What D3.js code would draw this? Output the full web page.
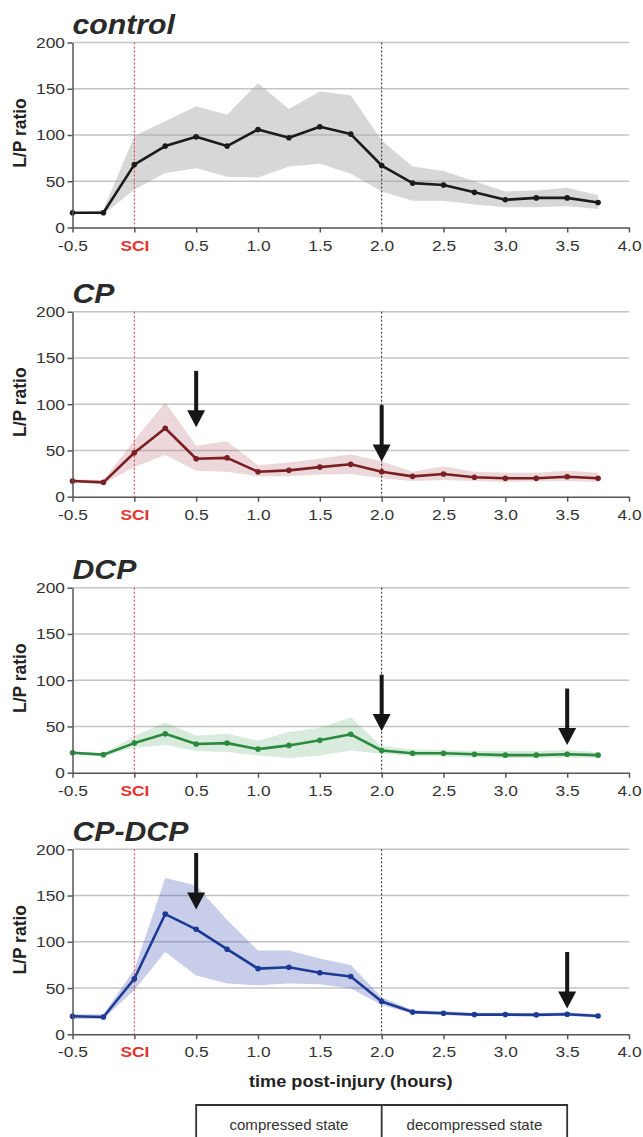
<!DOCTYPE html>
<html><head><meta charset="utf-8">
<script src="https://cdn.jsdelivr.net/npm/d3@7"></script>
<style>body{margin:0;background:#fff}svg{display:block}</style>
</head><body><svg id="c" width="643" height="1137"></svg>
<script>
// ---------- data ----------
const timePoints = [-0.5,-0.25,0,0.25,0.5,0.75,1.0,1.25,1.5,1.75,2.0,2.25,2.5,2.75,3.0,3.25,3.5,3.75];
const xTickValues = [-0.5,0,0.5,1,1.5,2,2.5,3,3.5,4];
const xTickLabels = ["-0.5","SCI","0.5","1.0","1.5","2.0","2.5","3.0","3.5","4.0"];
const yTickValues = [0,50,100,150,200];
const panelTitles = ["control","CP","DCP","CP-DCP"];
const yAxisTitle = "L/P ratio";
const xAxisTitle = "time post-injury (hours)";
const stateLabels = ["compressed state","decompressed state"];
const stateBounds = [0.5, 2.0, 3.5];

const controlMean  = [16,16,68,88,98,88,106,97,109,101,67,48,46,38,30,32,32,27];
const controlUpper = [16,19,99,115,131,122,156,128,147,143,94,66,61,50,39,40,43,35];
const controlLower = [16,14,41,59,64,55,54,66,69,58,39,29,29,25,22,22,23,20];

const cpMean  = [17,15.5,47.5,74,41,42,27,28.5,32,35,27,22,24.5,21,20,20,21.5,20];
const cpUpper = [19,18,61,102,55,60,34,37,41,46,38,27,33,27,26,26,28,26];
const cpLower = [15,14,32,45,28,27,22,22,24,24.5,20,17,18,17,16,16.5,17,16];

const dcpMean  = [21.5,19.5,32,42,31,32,25.5,29.5,35,41.5,24,21,21,20,19,19,20,19];
const dcpUpper = [23,21,39.5,54.5,40,42,34.5,44,48.5,60,29,25,24.5,23.5,23.5,23.5,24.5,22];
const dcpLower = [20,18,27,30,23.5,22.5,18.5,16,18.5,24,20.5,18,17.5,16.5,16,16,16.5,16];

const cpdcpMean  = [19.5,18.7,60,130,113.5,92,71,72.5,66.5,62.5,35.5,24,22.7,21.3,21.3,21,21.6,19.8];
const cpdcpUpper = [21.6,21.6,70,169,161,123.5,90.5,90.5,82,75,40,26.3,25,23.4,23.4,23,23.8,22];
const cpdcpLower = [16.6,16.6,48,89,63.5,55,53,55,54,49.5,31.7,22.3,21,19.8,19.8,19.5,19.8,18.4];

// arrows: [time, tail value, tip value]
const cpArrows    = [[0.5,136,75],[2.0,99,38]];
const dcpArrows   = [[2.0,106,45],[3.5,91,30]];
const cpdcpArrows = [[0.5,196,135],[3.5,89,28]];

// ---------- layout ----------
const svg = d3.select("#c");
const FONT = "'Liberation Sans', Arial, Helvetica, sans-serif";
const x = d3.scaleLinear().domain([-0.5,4.0]).range([72.5,629]);
const panelTops = [42.5, 311.7, 587.7, 849.3];
const panelH = 185;

const panels = [
  {title:panelTitles[0], mean:controlMean, up:controlUpper, lo:controlLower, line:"#1b1b1b", band:"#a6a7a8", bandOp:0.45, arrows:[]},
  {title:panelTitles[1], mean:cpMean, up:cpUpper, lo:cpLower, line:"#7a1f22", band:"#b5606a", bandOp:0.25, arrows:cpArrows},
  {title:panelTitles[2], mean:dcpMean, up:dcpUpper, lo:dcpLower, line:"#2a8a3e", band:"#3a9a55", bandOp:0.2, arrows:dcpArrows},
  {title:panelTitles[3], mean:cpdcpMean, up:cpdcpUpper, lo:cpdcpLower, line:"#1d3a94", band:"#3a4fb0", bandOp:0.28, arrows:cpdcpArrows}
];

const SX = 1.12; // horizontal stretch of the reference lettering

panels.forEach((p, pi) => {
  const top = panelTops[pi];
  const y = d3.scaleLinear().domain([0,200]).range([top+panelH, top]);
  const g = svg.append("g");

  // gridlines
  g.selectAll("line.grid").data(yTickValues.filter(v => v>0)).join("line")
    .attr("x1", x(-0.5)).attr("x2", x(4.0))
    .attr("y1", d => y(d)).attr("y2", d => y(d))
    .attr("stroke", "#c4c4c4").attr("stroke-width", 1.5);

  // band
  const area = d3.area().x((d,i)=>x(timePoints[i])).y0((d,i)=>y(p.lo[i])).y1((d,i)=>y(p.up[i]));
  g.append("path").datum(p.mean).attr("d", area)
    .attr("fill", p.band).attr("fill-opacity", p.bandOp);

  // vertical dashed markers
  g.append("line").attr("x1", x(0)).attr("x2", x(0)).attr("y1", y(200)).attr("y2", y(0))
    .attr("stroke", "#e8322f").attr("stroke-width", 1).attr("stroke-dasharray", "2,2");
  g.append("line").attr("x1", x(2)).attr("x2", x(2)).attr("y1", y(200)).attr("y2", y(0))
    .attr("stroke", "#222").attr("stroke-width", 1).attr("stroke-dasharray", "2,2");

  // mean line
  const line = d3.line().x((d,i)=>x(timePoints[i])).y(d=>y(d));
  g.append("path").datum(p.mean).attr("d", line)
    .attr("fill", "none").attr("stroke", p.line).attr("stroke-width", 2.6).attr("stroke-linejoin","round");
  g.selectAll("circle").data(p.mean).join("circle")
    .attr("cx", (d,i)=>x(timePoints[i])).attr("cy", d=>y(d)).attr("r", 2.8).attr("fill", p.line);

  // axes
  const yAxis = g.append("g").attr("transform", `translate(${x(-0.5)},0)`)
    .call(d3.axisLeft(y).tickValues(yTickValues).tickSize(5).tickSizeOuter(0).tickPadding(2.5));
  const xAxis = g.append("g").attr("transform", `translate(0,${y(0)})`)
    .call(d3.axisBottom(x).tickValues(xTickValues).tickFormat((d,i)=>xTickLabels[i]).tickSize(5).tickSizeOuter(0).tickPadding(7));
  [yAxis, xAxis].forEach(a => {
    a.select(".domain").attr("stroke", "#555").attr("stroke-width", 1.5);
    a.selectAll(".tick line").attr("stroke", "#555").attr("stroke-width", 1.5);
    a.selectAll(".tick text").attr("font-family", FONT).attr("font-size", 15.5).attr("fill", "#333");
  });
  yAxis.selectAll(".tick text").each(function(){
    const t = d3.select(this);
    t.attr("x", (+t.attr("x"))/SX).attr("transform", `scale(${SX},1)`);
  });
  xAxis.selectAll(".tick text").attr("transform", `scale(${SX},1)`)
    .filter((d,i)=>xTickLabels[i]==="SCI")
    .attr("fill", "#e8322f").attr("font-weight", "bold");

  // title
  g.append("text").attr("transform", `translate(${x(-0.5)},${top-8.5}) scale(1.08,1)`)
    .attr("font-family", FONT).attr("font-size", 28).attr("font-weight", "bold").attr("font-style", "italic")
    .attr("fill", "#2a2a2a").text(p.title);

  // y axis title
  g.append("text").attr("transform", `translate(25.5,${top+panelH/2-2}) rotate(-90) scale(1,1.1)`)
    .attr("text-anchor", "middle")
    .attr("font-family", FONT).attr("font-size", 17.5).attr("font-weight", "bold").attr("fill", "#222")
    .text(yAxisTitle);

  // arrows
  p.arrows.forEach(([t, from, to]) => {
    const cx = x(t), y0 = y(from), y1 = y(to);
    const headH = 17, headW = 18;
    g.append("line").attr("x1", cx).attr("x2", cx).attr("y1", y0).attr("y2", y1-headH+2)
      .attr("stroke", "#161616").attr("stroke-width", 4);
    g.append("path").attr("d", `M${cx-headW/2},${y1-headH} L${cx+headW/2},${y1-headH} L${cx},${y1} Z`)
      .attr("fill", "#161616");
  });

  if (pi === panels.length-1) {
    g.append("text").attr("transform", `translate(${(x(-0.5)+x(4))/2},${y(0)+53}) scale(1.1,1)`)
      .attr("text-anchor","middle").attr("font-family", FONT).attr("font-size", 16.5).attr("font-weight","bold")
      .attr("fill","#222").text(xAxisTitle);

    // state box
    const bTop = 1105, bBot = 1145;
    const sg = svg.append("g");
    sg.append("path")
      .attr("d", `M${x(stateBounds[0])},${bBot} V${bTop} H${x(stateBounds[2])} V${bBot} M${x(stateBounds[1])},${bTop} V${bBot}`)
      .attr("fill","none").attr("stroke","#333").attr("stroke-width",1.8);
    stateLabels.forEach((s, i) => {
      const cx = (x(stateBounds[i]) + x(stateBounds[i+1]))/2;
      sg.append("text").attr("transform", `translate(${cx},1129.5) scale(1.04,1)`)
        .attr("text-anchor","middle").attr("font-family", FONT).attr("font-size", 14.5)
        .attr("fill","#333").text(s);
    });
  }
});
</script></body></html>
